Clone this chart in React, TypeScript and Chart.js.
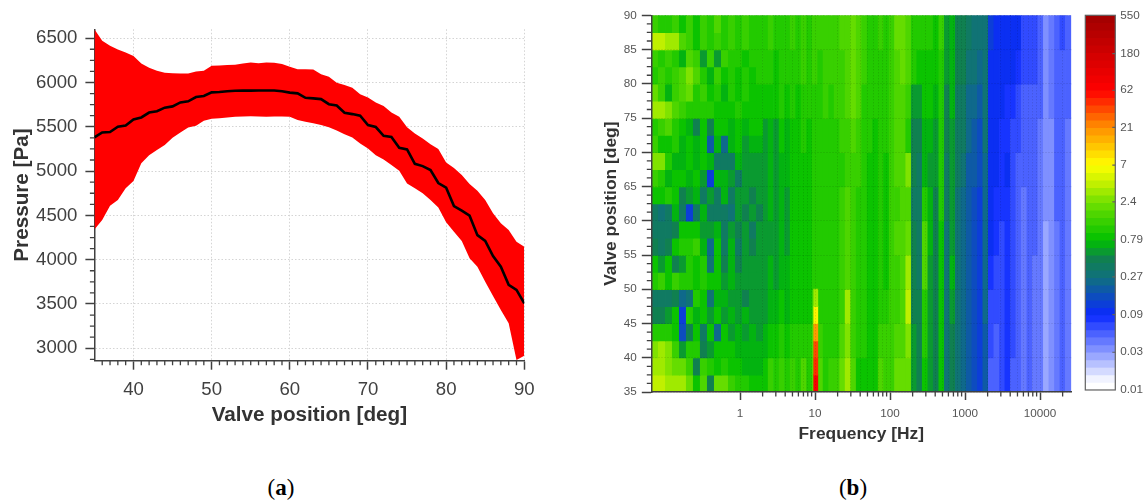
import React, { useEffect, useRef } from "react";
import { Chart, registerables } from "chart.js";

Chart.register(...registerables);

// ---------- Panel (a) ----------
const valvePositions = [35,36,37,38,39,40,41,42,43,44,45,46,47,48,49,50,51,52,53,54,55,56,57,58,59,60,61,62,63,64,65,66,67,68,69,70,71,72,73,74,75,76,77,78,79,80,81,82,83,84,85,86,87,88,89,90];
const meanPressure = [5380,5436,5440,5500,5515,5583,5605,5660,5675,5716,5730,5775,5787,5836,5847,5888,5892,5900,5907,5908,5908,5909,5910,5910,5900,5885,5877,5827,5820,5812,5755,5740,5658,5643,5624,5519,5497,5398,5385,5263,5244,5082,5056,5011,4865,4812,4605,4553,4496,4277,4212,4040,3920,3716,3660,3507];
const upperPressure = [6600,6470,6413,6372,6339,6300,6214,6165,6131,6110,6105,6100,6100,6124,6131,6188,6192,6196,6200,6214,6225,6218,6225,6222,6207,6177,6150,6150,6147,6094,6064,5996,5970,5940,5868,5831,5775,5733,5662,5612,5496,5425,5368,5304,5248,5098,5034,4955,4853,4778,4673,4523,4410,4335,4203,4146];
const lowerPressure = [4342,4447,4609,4673,4805,4887,5087,5180,5237,5293,5375,5436,5493,5512,5568,5590,5597,5605,5612,5616,5620,5616,5612,5616,5616,5612,5575,5556,5540,5519,5496,5459,5417,5380,5312,5256,5180,5132,5068,5003,4861,4805,4750,4673,4590,4422,4316,4210,4015,3920,3752,3590,3432,3282,2868,2917];
const pressureTicks = [3000,3500,4000,4500,5000,5500,6000,6500];
const valveTicks = [40,50,60,70,80,90];

// ---------- Panel (b) ----------
const lowFreqEdges = [0.0655,0.0813,0.101,0.125,0.155,0.192,0.238,0.295,0.366,0.454,0.563,0.698,0.866,1.07,1.33,1.65,2];
const lowRowsDeg = [88.75,86.25,83.75,81.25,78.75,76.25,73.75,71.25,68.75,66.25,63.75,61.25,58.75,56.25,53.75,51.25,48.75,46.25,43.75,41.25,38.75,36.25];
const lowAmplitude = [
  [1.5,1.2,1.2,1.5,.8,1.4,.9,1.3,1.2,1.6,1.2,1.4,1,1.5,1,1.2],
  [4,4,3.5,3,1.6,1.3,.8,1.5,1.2,1.5,1,1.4,1,1.3,1,1],
  [1.3,1.2,1.5,1,.7,1.8,1.4,.6,1.4,.6,1.4,1,1.2,.9,1.2,1],
  [1.2,1.5,1.2,1.5,1.6,2.4,1.8,1,.7,1.3,.8,1.2,.9,1.1,.9,1],
  [2,1.3,.7,1.3,1.6,1.9,1.2,1.4,.8,1.2,.7,1.2,.8,1,.8,.9],
  [3,3,2.5,1.8,1.4,1,1.2,1,1,.8,.9,.8,1,.8,.8,.8],
  [1.2,1.5,1.8,1.2,.9,.7,.5,.8,.5,.8,.9,.7,.9,.7,.8,.8],
  [1.5,.9,.8,1.2,.7,.9,.7,.9,.2,.7,.25,.7,.8,.6,.7,.7],
  [2.5,2.5,1,.7,.7,.9,.7,.8,.7,.35,.4,.35,.7,.55,.6,.6],
  [1.4,1,.7,.8,.9,.7,.9,.6,.13,.7,.7,.55,.4,.6,.55,.6],
  [.9,.8,1,.8,.5,.6,.7,.4,.6,.4,.7,.4,.6,.6,.5,.6],
  [.34,.32,.4,.7,.4,.13,.35,.7,.35,.4,.35,.3,.6,.5,.6,.5],
  [.35,.35,.35,.5,.8,.9,.9,.6,.6,.7,.35,.6,.45,.6,.4,.6],
  [.45,.4,.5,.8,1,1.2,1.4,.7,.22,.8,.35,.7,.4,.6,.5,.6],
  [.9,.6,.9,.5,.6,1,.9,1,.3,.8,.5,.7,.45,.6,.6,.6],
  [1.1,1.3,.9,1.5,1,1.1,.9,1,.9,.8,.6,.7,.6,.6,.6,.6],
  [.4,.35,.4,.5,.22,.3,1,.8,.28,.7,.7,.55,.6,.5,.6,.6],
  [.5,.5,.6,.8,.13,1,.7,.9,.6,.8,.6,.7,.55,.65,.55,.6],
  [1,1,1,.9,.16,.5,.9,.35,.8,.22,.9,.6,.7,.55,.65,.6],
  [2.5,3,2.5,1.5,.6,1,1,.5,.6,.8,.9,.8,.65,.7,.65,.7],
  [3,3.5,2.5,2,2,1.5,.5,1.5,1,.8,1,.8,.8,.7,.65,.7],
  [4,4,3.5,3,3,2.2,.8,1.8,.5,2,2,1.5,1.2,1,.8,.8],
];
const highFreqEdges = [2,2.37,2.8,3.32,3.93,4.66,5.52,6.53,7.73,9.16,10.85,12.8,15.2,18,21.3,25.2,29.9,35.4,41.9,49.6,58.7,69.5,82.3,97.5,115,137,162,192,227,269,319,377,447,529,627,742,879,1040,1232,1459,1727,2045,2422,2868,3396,4021,4761,5638,6676,7905,9360,11083,13124,15540,18401,21789,26000];
const highRowsDeg = [87.5,82.5,77.5,72.5,67.5,62.5,57.5,52.5,47.5,42.5,37.5];
// one list per frequency column, from the top row down
const highAmplitude = [
  [1.1,1,.8,.6,.6,.55,.6,.6,.6,.7,.9],
  [1.3,1.1,.9,.75,.7,.65,.6,.7,.7,.9,1.3],
  [1,.9,.8,.6,.6,.55,.6,.6,.7,.9,1.1],
  [1.2,1.1,1,.8,.75,.7,.7,.7,.8,1,1.4],
  [1,1,.9,.7,.7,.6,.6,.7,.65,.9,1],
  [1.3,1.2,1,.9,.8,.8,.8,.8,.9,1,1.3],
  [1,1,.9,.85,.8,.8,.8,.8,.85,1.2,1.1],
  [1.4,1.3,1.2,1,.9,.8,.8,.9,.9,1.1,1.6],
  [1.1,1,1,.9,.8,.8,.8,.8,.8,1,1.1],
  [1.4,1.3,1.2,1,1,1,1,1,1.4,1.6,1.8],
  [1.3,1.2,1.2,1,1,1,1,1,1.2,1.4,1.6],
  [1.4,1.4,1.3,1.2,1.1,1,1,1,1,1.1,1.2],
  [1.3,1.3,1.2,1.1,1.1,1,1,1,1.1,1.2,1.3],
  [1.5,1.4,1.4,1.2,1.2,1.2,1.2,1.2,1.2,1.2,1.5],
  [1.6,1.5,1.4,1.3,1.2,1.3,1.3,1.3,1.4,1.6,2.2],
  [1.8,1.7,1.6,1.5,1.5,1.6,1.7,1.8,3.5,2.5,3.5],
  [2.2,2.2,2.2,1.8,1.5,1.5,1.5,1.4,1.4,1.5,1.6],
  [1.8,1.8,1.8,1.5,1.3,1.2,1.2,1.1,1,1,.9],
  [1.3,1.3,1.2,1.1,1,1,1,1,1,1,.8],
  [1.2,1.1,1.1,1,.9,.9,.9,.9,.9,.9,.8],
  [1,1,1,.9,.9,.8,.8,.8,.8,.8,.8],
  [1.3,1.2,1.2,1.1,1.1,1.1,1.1,1.1,1.1,1.4,1.8],
  [1.2,1.1,1.1,1,.9,.9,.9,.9,1.2,1.5,1.4],
  [1.5,1.4,1.4,1.5,1.5,1.4,1.3,1.3,1.5,1.4,1.3],
  [2,1.8,1.7,1.6,1.8,1.5,1.6,1.4,1.5,1.8,2],
  [2,1.9,1.8,1.7,1.6,1.6,1.6,1.6,1.6,1.7,2],
  [1.7,1.8,1.4,1.1,2.5,1.8,2,3.5,4,2.5,2],
  [1.2,1,.6,.45,.45,.4,.45,.45,.5,.6,.6],
  [1,.9,.6,.45,.4,.4,.4,.4,.45,.5,.5],
  [1,.9,.8,.7,.7,1.2,1.8,1.6,1.2,1,.9],
  [1,.9,.8,.7,.6,.7,.7,.6,.6,.6,.6],
  [.8,.8,.7,.6,.6,.5,.5,.5,.5,.5,.5],
  [1.3,1.2,1.1,1,1,1,.9,.9,.9,.8,.8],
  [.6,.6,.5,.45,.4,.35,.3,.3,.3,.3,.3],
  [.7,.7,.7,.6,.6,.6,.6,.7,.6,.5,.5],
  [.5,.45,.4,.4,.35,.3,.3,.3,.3,.3,.3],
  [.5,.45,.4,.35,.3,.25,.25,.25,.25,.25,.25],
  [.35,.3,.25,.22,.2,.2,.18,.2,.2,.2,.18],
  [.3,.28,.22,.2,.18,.17,.15,.15,.15,.15,.15],
  [.28,.22,.18,.16,.15,.13,.12,.12,.12,.12,.12],
  [.32,.3,.28,.28,.26,.26,.25,.24,.22,.2,.2],
  [.12,.11,.1,.1,.09,.09,.09,.08,.07,.06,.05],
  [.11,.1,.09,.09,.09,.08,.08,.07,.06,.055,.05],
  [.1,.09,.09,.08,.08,.08,.07,.07,.06,.06,.06],
  [.1,.09,.08,.08,.09,.08,.08,.08,.08,.08,.08],
  [.09,.09,.08,.07,.07,.07,.06,.06,.06,.06,.05],
  [.09,.08,.07,.06,.05,.05,.05,.05,.05,.05,.05],
  [.07,.06,.05,.05,.05,.045,.04,.04,.045,.045,.04],
  [.07,.06,.055,.05,.05,.05,.05,.05,.05,.05,.05],
  [.07,.06,.055,.05,.05,.05,.05,.045,.045,.045,.045],
  [.055,.05,.05,.045,.045,.045,.04,.04,.04,.04,.04],
  [.03,.03,.03,.03,.03,.03,.027,.027,.027,.025,.025],
  [.04,.04,.04,.035,.035,.035,.035,.035,.035,.03,.03],
  [.05,.05,.05,.05,.05,.05,.045,.045,.045,.04,.04],
  [.06,.055,.055,.05,.05,.05,.05,.05,.05,.05,.05],
  [.05,.05,.05,.045,.045,.045,.045,.045,.04,.04,.04],
];
const peakFreqRange = [9.6, 10.9];
const peakRowsDeg = [36.25,38.75,41.25,43.75,46.25,48.75];
const peakAmplitude = [70,45,35,20,7,3];
const freqMajorTicks = [1,10,100,1000,10000];
const freqMinorTicks = [2,3,4,5,6,7,8,9,20,30,40,50,60,70,80,90,200,300,400,500,600,700,800,900,2000,3000,4000,5000,6000,7000,8000,9000,20000];
const valveAxisTicks = [35,40,45,50,55,60,65,70,75,80,85,90];
const colorbarTicks = [0.01,0.03,0.09,0.27,0.79,2.4,7,21,62,180,550];

// ---------- Colour map ----------
const AMP_MIN = 0.01, AMP_MAX = 550, LEVELS = 50;
const colorStops: [number, number[]][] = [
  [0.02,[255,255,255]],[0.1,[140,156,255]],[0.2,[10,40,255]],[0.3,[16,112,126]],[0.35,[16,128,80]],[0.4,[0,192,0]],
  [0.5,[112,224,0]],[0.55,[192,240,0]],[0.6,[255,255,0]],[0.7,[255,144,0]],[0.8,[255,0,0]],[0.9,[208,0,0]],[1,[160,0,0]],
];
const levelColor = (i: number) => {
  const p = (i + 0.5) / LEVELS;
  if (p <= colorStops[0][0]) return "rgb(255,255,255)";
  for (let k = 1; k < colorStops.length; k++) {
    const [p1, c1] = colorStops[k];
    const [p0, c0] = colorStops[k - 1];
    if (p <= p1) {
      const t = (p - p0) / (p1 - p0);
      return `rgb(${c0.map((c, j) => Math.round(c + (c1[j] - c) * t)).join(",")})`;
    }
  }
  return "rgb(160,0,0)";
};
const ampColor = (v: number) => {
  const p = Math.log(v / AMP_MIN) / Math.log(AMP_MAX / AMP_MIN);
  return levelColor(Math.max(0, Math.min(LEVELS - 1, Math.floor(p * LEVELS))));
};

// ---------- Axis furniture ----------
const AXIS = "#404040";
const minorTickPlugin = (xTicks: number[], yTicks: number[], len: number) => ({
  id: "minorTicks",
  afterDraw(chart: any) {
    const { ctx, scales: { x, y }, chartArea: a } = chart;
    ctx.save();
    ctx.strokeStyle = AXIS;
    ctx.lineWidth = 1.3;
    ctx.beginPath();
    xTicks.forEach((v) => { const p = x.getPixelForValue(v); ctx.moveTo(p, a.bottom); ctx.lineTo(p, a.bottom + len); });
    yTicks.forEach((v) => { const p = y.getPixelForValue(v); ctx.moveTo(a.left, p); ctx.lineTo(a.left - len, p); });
    ctx.stroke();
    ctx.restore();
  },
});
const fixedTicks = (vals: number[]) => (s: any) => { s.ticks = vals.map((value) => ({ value })); };

const pressureMinor: number[] = [2875,3125,3250,3375,3625,3750,3875,4125,4250,4375,4625,4750,4875,5125,5250,5375,5625,5750,5875,6125,6250,6375];
const valveMinor: number[] = [36,37,38,39,41,42,43,44,45,46,47,48,49,51,52,53,54,55,56,57,58,59,61,62,63,64,65,66,67,68,69,71,72,73,74,75,76,77,78,79,81,82,83,84,85,86,87,88,89];
const valveAxisMinor: number[] = [];
valveAxisTicks.slice(0, -1).forEach((v) => valveAxisMinor.push(v + 1.25, v + 2.5, v + 3.75));

const LEFT_FONT = "'Liberation Sans', Arial, sans-serif";

export default function App() {
  const a = useRef<HTMLCanvasElement>(null);
  const b = useRef<HTMLCanvasElement>(null);
  const c = useRef<HTMLCanvasElement>(null);

  useEffect(() => {
    // Panel (a)
    const chartA = new Chart(a.current!, {
      type: "line",
      data: {
        labels: valvePositions,
        datasets: [
          { data: valvePositions.map((x, i) => ({ x, y: meanPressure[i] })), borderColor: "#000", borderWidth: 2.6, pointRadius: 0, tension: 0, fill: false, order: 0 },
          { data: valvePositions.map((x, i) => ({ x, y: upperPressure[i] })), borderColor: "rgba(0,0,0,0)", borderWidth: 0, pointRadius: 0, tension: 0, backgroundColor: "#ff0000", fill: "+1", order: 1 },
          { data: valvePositions.map((x, i) => ({ x, y: lowerPressure[i] })), borderColor: "rgba(0,0,0,0)", borderWidth: 0, pointRadius: 0, tension: 0, fill: false, order: 2 },
        ],
      } as any,
      options: {
        animation: false, responsive: false,
        layout: { padding: { top: 29.3, right: 35.7, left: 0, bottom: 0 } },
        plugins: { legend: { display: false }, tooltip: { enabled: false } },
        scales: {
          x: {
            type: "linear", min: 35, max: 90,
            afterBuildTicks: fixedTicks(valveTicks),
            afterFit: (s: any) => { s.height = 67.3; },
            border: { color: AXIS, width: 1.5, dash: [1.5, 2] },
            grid: { color: "#d4d4d4", tickColor: AXIS, tickWidth: 1.5, tickLength: 9, tickBorderDash: [] },
            ticks: { color: AXIS, font: { family: LEFT_FONT, size: 18.6 }, padding: 9, maxRotation: 0, autoSkip: false, callback: (v: number) => String(v) },
            title: { display: true, text: "Valve position [deg]", color: "#333", font: { family: LEFT_FONT, size: 20.7, weight: "bold" }, padding: { top: 0, bottom: 0 } },
          },
          y: {
            min: 2860, max: 6600,
            afterBuildTicks: fixedTicks(pressureTicks),
            afterFit: (s: any) => { s.width = 94.4; },
            border: { color: AXIS, width: 1.5, dash: [1.5, 2] },
            grid: { color: "#d4d4d4", tickColor: AXIS, tickWidth: 1.5, tickLength: 9, tickBorderDash: [] },
            ticks: { color: AXIS, font: { family: LEFT_FONT, size: 18.6 }, padding: 8, autoSkip: false, callback: (v: number) => String(v) },
            title: { display: true, text: "Pressure [Pa]", color: "#333", font: { family: LEFT_FONT, size: 20.7, weight: "bold" }, padding: { top: 10, bottom: 0 } },
          },
        },
      } as any,
      plugins: [minorTickPlugin(valveMinor, pressureMinor, 4.5)],
    });

    // Panel (b) heat map: floating horizontal bars on the log frequency scale
    const PX_PER_DEG = 376 / 55;
    const lowSets = lowRowsDeg.map((deg, r) => ({
      data: lowAmplitude[r].map((_, k) => ({ x: [lowFreqEdges[k], lowFreqEdges[k + 1]], y: deg })),
      backgroundColor: lowAmplitude[r].map(ampColor),
      barThickness: 2.5 * PX_PER_DEG + 0.6,
    }));
    const highSets = highRowsDeg.map((deg, r) => ({
      data: highAmplitude.map((_, k) => ({ x: [highFreqEdges[k], highFreqEdges[k + 1]], y: deg })),
      backgroundColor: highAmplitude.map((col) => ampColor(col[r])),
      barThickness: 5 * PX_PER_DEG + 0.6,
    }));
    const peakSet = {
      data: peakRowsDeg.map((deg) => ({ x: peakFreqRange, y: deg })),
      backgroundColor: peakAmplitude.map(ampColor),
      barThickness: 2.5 * PX_PER_DEG + 0.6,
    };
    const chartB = new Chart(b.current!, {
      type: "bar",
      // the first dataset is painted last, so the narrow peak comes first
      data: { datasets: [peakSet, ...lowSets, ...highSets] } as any,
      options: {
        indexAxis: "y", animation: false, responsive: false,
        datasets: { bar: { grouped: false, borderWidth: 0 } },
        layout: { padding: { top: 15.3, right: 8.7, left: 0, bottom: 0 } },
        plugins: { legend: { display: false }, tooltip: { enabled: false } },
        scales: {
          x: {
            type: "logarithmic", min: 0.0656, max: 26100,
            afterBuildTicks: (s: any) => {
              s.ticks = [...freqMajorTicks, ...freqMinorTicks].sort((p, q) => p - q).map((value) => ({ value }));
            },
            afterFit: (s: any) => { s.height = 53; },
            border: { color: AXIS, width: 1.5, z: 2, dash: [1, 2] },
            grid: {
              z: 1, color: "rgba(0,0,0,0.16)", tickLength: 8, tickWidth: 1.5, tickBorderDash: [],
              tickColor: (ctx: any) => (freqMajorTicks.includes(ctx.tick?.value) ? AXIS : "rgba(0,0,0,0)"),
            },
            ticks: {
              color: "#555", font: { family: LEFT_FONT, size: 11.7 }, padding: 6.5, maxRotation: 0, autoSkip: false,
              callback: (v: number) => (freqMajorTicks.includes(v) ? String(v) : ""),
            },
            title: { display: true, text: "Frequency [Hz]", color: "#333", font: { family: LEFT_FONT, size: 17.4, weight: "bold" }, padding: { top: 0, bottom: 0 } },
          },
          y: {
            type: "linear", min: 35, max: 90, offset: false,
            afterBuildTicks: fixedTicks(valveAxisTicks),
            afterFit: (s: any) => { s.width = 61.3; },
            border: { color: AXIS, width: 1.5, z: 2, dash: [1, 2] },
            grid: { z: 1, offset: false, color: "rgba(0,0,0,0.16)", tickColor: AXIS, tickWidth: 1.5, tickLength: 9.5, tickBorderDash: [] },
            ticks: { color: "#555", font: { family: LEFT_FONT, size: 11.7 }, padding: 5, autoSkip: false },
            title: { display: true, text: "Valve position [deg]", color: "#333", font: { family: LEFT_FONT, size: 17.4, weight: "bold" }, padding: { top: 10.5, bottom: 0 } },
          },
        },
      } as any,
      plugins: [minorTickPlugin(freqMinorTicks, valveAxisMinor, 4.5)],
    });

    // Colour bar
    const levelEdges = Array.from({ length: LEVELS + 1 }, (_, i) => AMP_MIN * Math.pow(AMP_MAX / AMP_MIN, i / LEVELS));
    const chartC = new Chart(c.current!, {
      type: "bar",
      data: {
        datasets: [{
          data: levelEdges.slice(0, -1).map((e, i) => ({ x: 0, y: [e, levelEdges[i + 1]] })),
          backgroundColor: levelEdges.slice(0, -1).map((_, i) => levelColor(i)),
          barThickness: 30, borderWidth: 0,
        }],
      } as any,
      options: {
        animation: false, responsive: false,
        layout: { padding: { top: 15.3, bottom: 10, left: 10.3, right: 0 } },
        plugins: { legend: { display: false }, tooltip: { enabled: false } },
        scales: {
          x: { type: "linear", min: -1, max: 1, display: false },
          y: {
            type: "logarithmic", position: "right", min: AMP_MIN, max: AMP_MAX,
            afterBuildTicks: fixedTicks(colorbarTicks),
            afterFit: (s: any) => { s.width = 28.7; },
            border: { display: false },
            grid: { drawOnChartArea: false, drawTicks: false },
            ticks: { color: "#555", font: { family: LEFT_FONT, size: 11.7 }, padding: 5, autoSkip: false, callback: (v: number) => String(v) },
          },
        },
      } as any,
      plugins: [{
        id: "barFrame",
        afterDraw(chart: any) {
          const { ctx, chartArea: r, scales: { y } } = chart;
          ctx.save();
          ctx.strokeStyle = "#606060";
          ctx.lineWidth = 1.2;
          ctx.strokeRect(r.left, r.top, r.right - r.left, r.bottom - r.top);
          ctx.beginPath();
          colorbarTicks.slice(1, -1).forEach((v) => { const p = y.getPixelForValue(v); ctx.moveTo(r.right - 3, p); ctx.lineTo(r.right, p); });
          ctx.stroke();
          ctx.restore();
        },
      }],
    });

    return () => { chartA.destroy(); chartB.destroy(); chartC.destroy(); };
  }, []);

  const abs = (left: number, top: number): React.CSSProperties => ({ position: "absolute", left, top });
  const cap: React.CSSProperties = { position: "absolute", top: 475, font: "23px 'Liberation Serif', serif", color: "#000", transform: "translateX(-50%)", whiteSpace: "nowrap" };
  return (
    <div style={{ position: "absolute", left: 0, top: 0, width: 1144, height: 502, overflow: "hidden", background: "#fff" }}>
      <canvas ref={a} width={560} height={428} style={abs(0, 0)} />
      <canvas ref={b} width={490} height={445} style={abs(590, 0)} />
      <canvas ref={c} width={69} height={402} style={abs(1075, 0)} />
      <span style={{ ...cap, left: 281 }}>(<b>a</b>)</span>
      <span style={{ ...cap, left: 853 }}>(<b>b</b>)</span>
    </div>
  );
}
